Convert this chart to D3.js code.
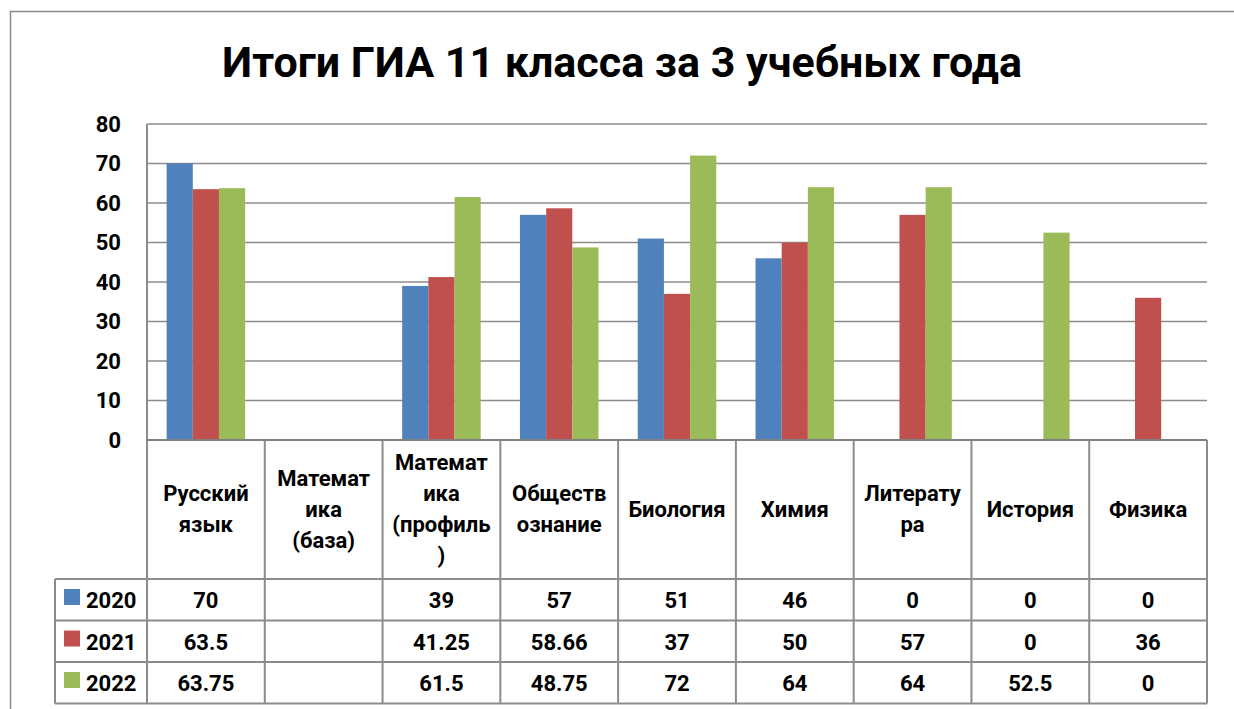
<!DOCTYPE html>
<html><head><meta charset="utf-8">
<script src="https://cdn.jsdelivr.net/npm/d3@7"></script>
<style>body{margin:0;background:#fff;} svg{display:block;} text{font-family:Roboto,"Noto Sans",sans-serif;font-weight:bold;fill:#000;}</style>
</head><body>
<script>
const title = "Итоги ГИА 11 класса за 3 учебных года";
const categories = ["Русский\nязык","Математ\nика\n(база)","Математ\nика\n(профиль\n)","Обществ\nознание","Биология","Химия","Литерату\nра","История","Физика"];
const series = ["2020","2021","2022"];
const values2020 = [70, null, 39, 57, 51, 46, 0, 0, 0];
const values2021 = [63.5, null, 41.25, 58.66, 37, 50, 57, 0, 36];
const values2022 = [63.75, null, 61.5, 48.75, 72, 64, 64, 52.5, 0];
const colors = ["#4F81BD","#C0504D","#9BBB59"];
const yTicks = [0,10,20,30,40,50,60,70,80];

(function(){
const W=1234,H=709;
const svg=d3.select("body").append("svg").attr("width",W).attr("height",H);
svg.append("rect").attr("x",10.5).attr("y",11.5).attr("width",W+10).attr("height",H+10).attr("fill","none").attr("stroke","#8c8c8c").attr("stroke-width",1.5);

const pL=147,pR=1207,pT=124,pB=440;
const band=d3.scaleBand().domain(d3.range(categories.length)).range([pL,pR]);
const step=band.step();
const barW=step/4.5;
const y=d3.scaleLinear().domain([0,80]).range([pB,pT]);
const data=[values2020,values2021,values2022];

svg.append("g").selectAll("line").data(yTicks.filter(d=>d>0)).join("line")
 .attr("x1",pL).attr("x2",pR).attr("y1",d=>y(d)).attr("y2",d=>y(d))
 .attr("stroke","#8c8c8c").attr("stroke-width",1.5);

data.forEach((vals,si)=>{
  svg.append("g").selectAll("rect").data(vals.map((v,i)=>({v,i})).filter(d=>d.v!=null && d.v>0)).join("rect")
   .attr("x",d=>band(d.i)+(step-3*barW)/2+si*barW)
   .attr("y",d=>y(d.v)).attr("width",barW).attr("height",d=>y(0)-y(d.v))
   .attr("fill",colors[si]);
});

const yAxis=d3.axisLeft(y).tickValues(yTicks).tickSize(0).tickPadding(0);
const ya=svg.append("g").attr("transform",`translate(${pL-26},0)`).call(yAxis);
ya.select(".domain").remove();
ya.selectAll("text").style("font-size","22px").style("font-family","Roboto,sans-serif").style("font-weight","bold").attr("fill","#000");

const gridCol="#8c8c8c";
const headerBottom=579, rowH=41.5;
const tbl=svg.append("g");
tbl.append("line").attr("x1",pL).attr("x2",pL).attr("y1",pT).attr("y2",headerBottom+3*rowH).attr("stroke",gridCol).attr("stroke-width",2);
d3.range(1,categories.length+1).forEach(i=>{
  const xx=pL+i*step;
  tbl.append("line").attr("x1",xx).attr("x2",xx).attr("y1",pB).attr("y2",headerBottom+3*rowH).attr("stroke",gridCol).attr("stroke-width",2);
});
tbl.append("line").attr("x1",55).attr("x2",55).attr("y1",headerBottom).attr("y2",headerBottom+3*rowH).attr("stroke",gridCol).attr("stroke-width",2);
tbl.append("line").attr("x1",pL).attr("x2",pR).attr("y1",pB).attr("y2",pB).attr("stroke","#808080").attr("stroke-width",2);
[0,1,2,3].forEach(r=>{
  tbl.append("line").attr("x1",55).attr("x2",pR).attr("y1",headerBottom+r*rowH).attr("y2",headerBottom+r*rowH).attr("stroke",gridCol).attr("stroke-width",2);
});
const lh=31;
categories.forEach((c,i)=>{
  const lines=c.split("\n");
  const cx=band(i)+step/2, cy=(pB+headerBottom)/2;
  const t=tbl.append("text").attr("text-anchor","middle").style("font-size","22px");
  lines.forEach((l,k)=>{
    t.append("tspan").attr("x",cx).attr("y",cy+(k-(lines.length-1)/2)*lh+7).text(l);
  });
});
data.forEach((vals,si)=>{
  const ry=headerBottom+si*rowH;
  tbl.append("rect").attr("x",64).attr("y",ry+10).attr("width",16).attr("height",16).attr("fill",colors[si]);
  tbl.append("text").attr("x",86).attr("y",ry+29).style("font-size","22px").text(series[si]);
  vals.forEach((v,i)=>{
    if(v==null) return;
    tbl.append("text").attr("x",band(i)+step/2).attr("y",ry+29).attr("text-anchor","middle").style("font-size","22px").text(v);
  });
});

const tt=svg.append("text").attr("x",622).attr("y",77).attr("text-anchor","middle").style("font-size","44px").text(title);
const wl=tt.node().getComputedTextLength();
tt.style("font-size",(44*800/wl)+"px");
})();
</script>
</body></html>
